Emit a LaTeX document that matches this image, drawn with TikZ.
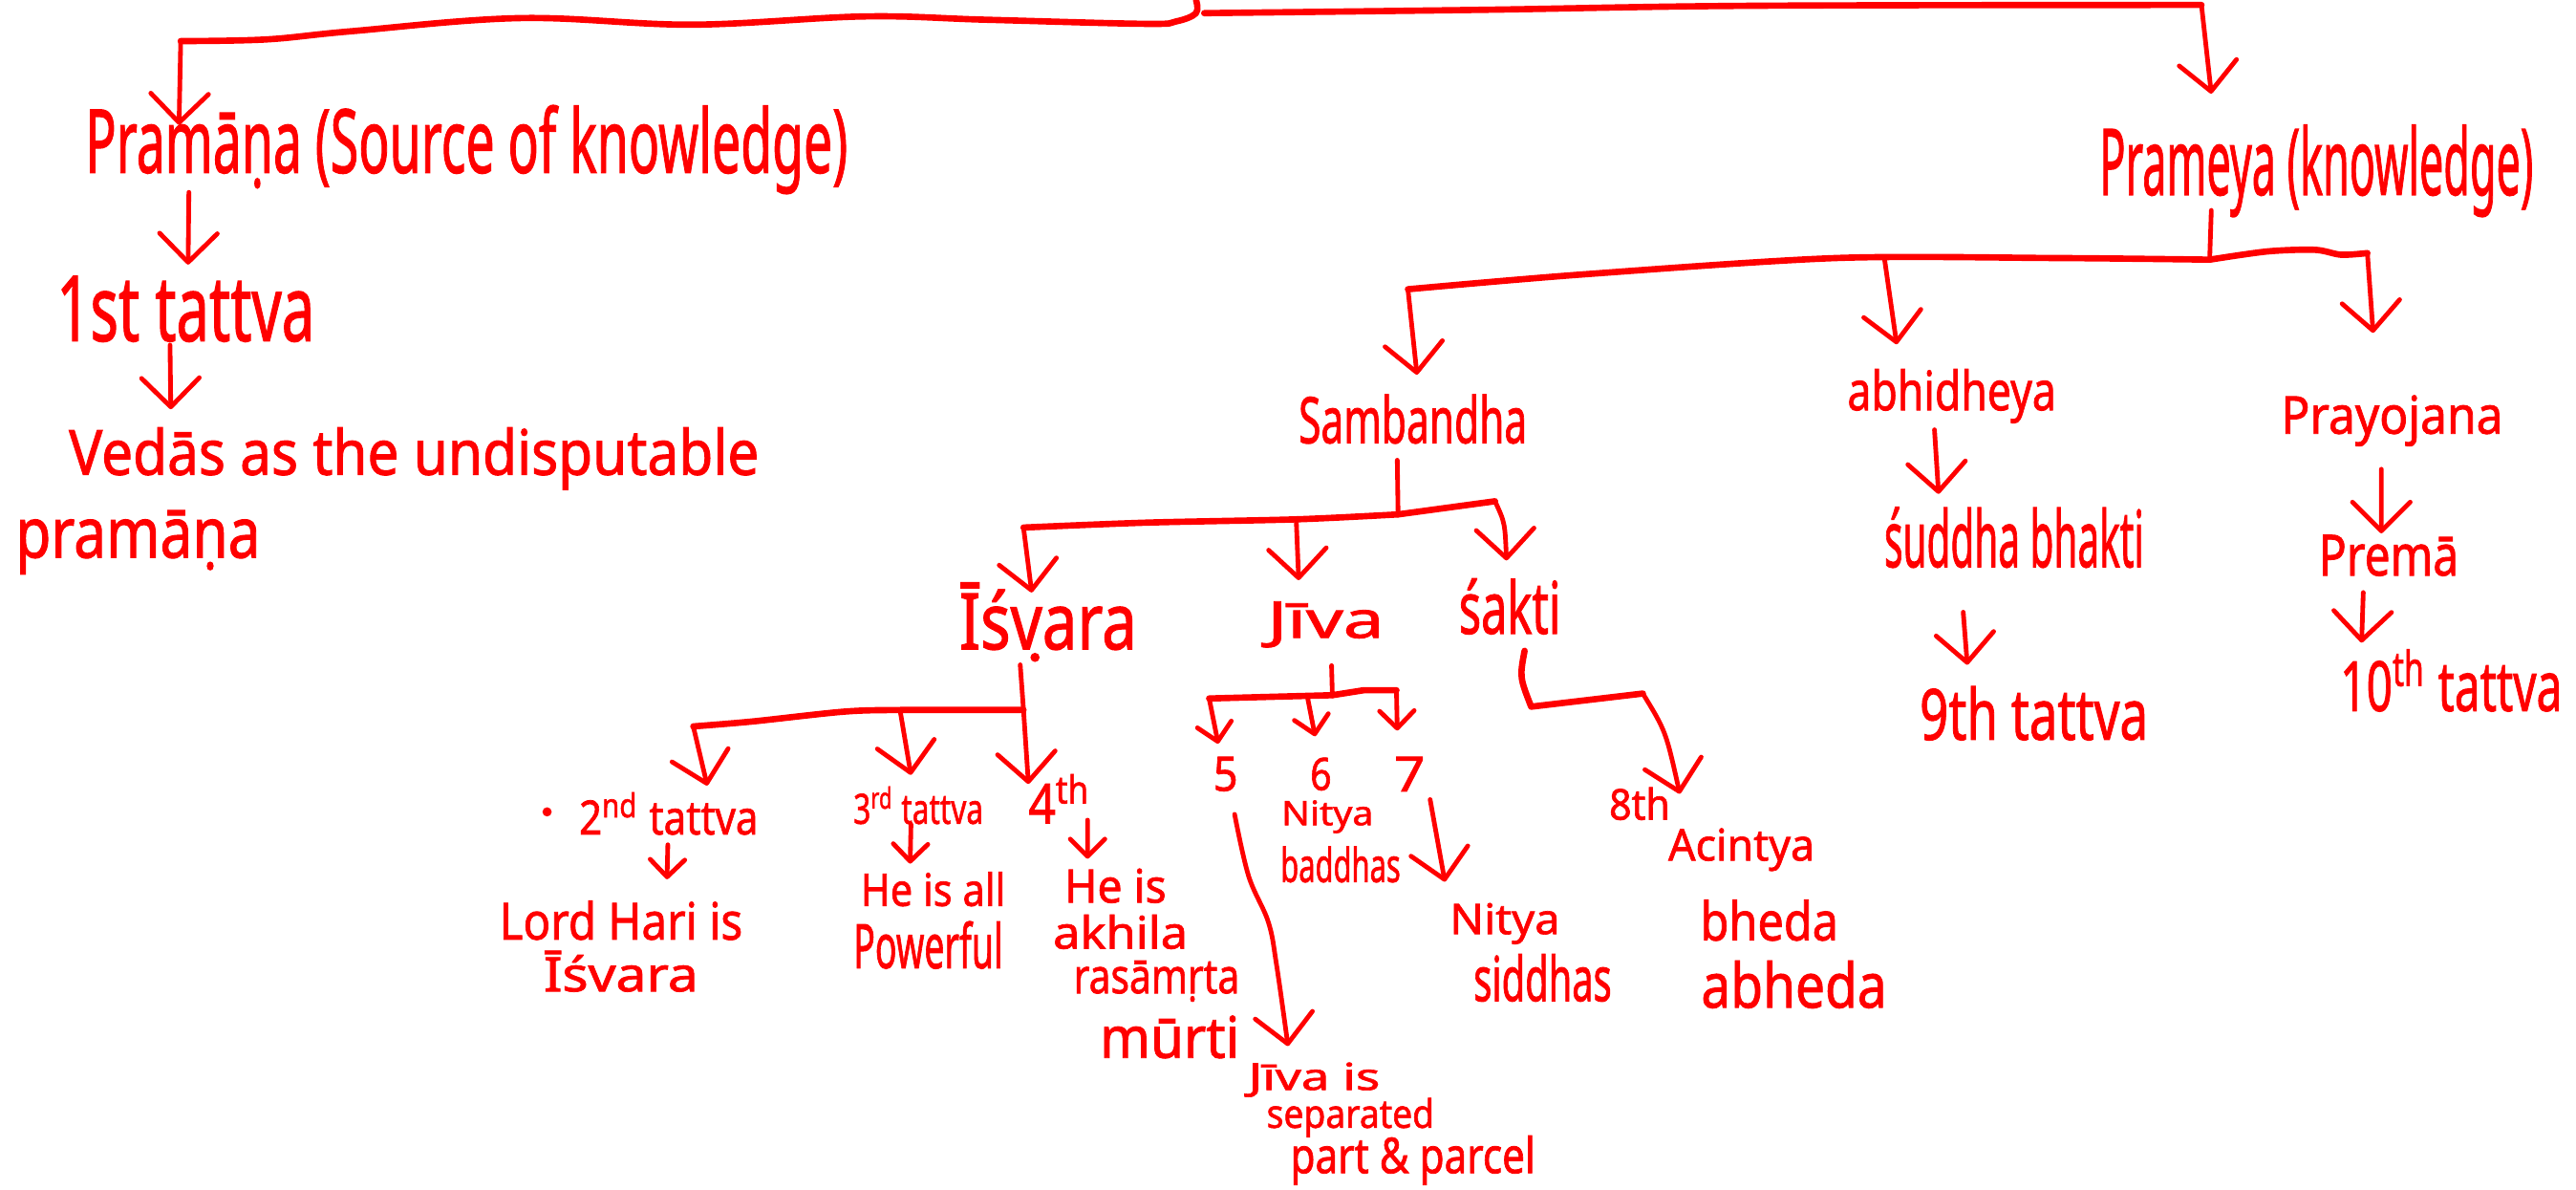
\documentclass[tikz,border=0pt]{standalone}
\usepackage{fontspec}
\setmainfont{Noto Sans}[BoldFont={Noto Sans}, BoldFeatures={FakeBold=1.5}]
\usetikzlibrary{arrows.meta,calc}
\definecolor{ink}{RGB}{255,0,0}
\newlength\pxu
\setlength\pxu{0.02cm}
% text squeezed into a box of the given width and total height
\newcommand{\hw}[3]{\resizebox*{#1\pxu}{#2\pxu}{#3}}
\begin{document}
\begin{tikzpicture}[x=0.02cm,y=-0.02cm,
  lbl/.style={inner sep=0pt, outer sep=0pt, text=ink, font=\bfseries},
  wire/.style={draw=ink, line width=1.6pt, line cap=round, line join=round},
  bus/.style={wire, line width=2.2pt},
  arr/.style={wire, -{Straight Barb[length=10pt,width=20pt,round]}},
  arrs/.style={wire, -{Straight Barb[length=6pt,width=12pt,round]}},
]
\useasboundingbox[fill=white] (0,0) rectangle (1568,724);

% ---------- labels ----------
\node[lbl] (pram)  at (284,91)   {\hw{464}{54}{Pramāṇa (Source of knowledge)}};
\node[lbl] (prem)  at (1410,104) {\hw{264}{56}{Prameya (knowledge)}};
\node[lbl] (tat1)  at (113,188)  {\hw{157}{40}{1st tattva}};
\node[lbl] (ved)   at (252,279)  {\hw{420}{38}{Vedās as the undisputable}};
\node[lbl] (ved2)  at (84,330)   {\hw{149}{39}{pramāṇa}};

\node[lbl] (samb)  at (860,255)  {\hw{139}{30}{Sambandha}};
\node[lbl] (abhi)  at (1188,241) {\hw{127}{33}{abhidheya}};
\node[lbl] (pray)  at (1456,256) {\hw{135}{31}{Prayojana}};
\node[lbl] (sudd)  at (1226,327) {\hw{158}{37}{śuddha bhakti}};
\node[lbl] (tat9)  at (1238,434) {\hw{139}{33}{9th tattva}};
\node[lbl] (pre)   at (1454,338) {\hw{85}{25}{Premā}};
\node[lbl] (tat10) at (1492,414) {\hw{135}{38}{10\textsuperscript{th} tattva}};

\node[lbl] (isv)   at (638,375)  {\hw{108}{41}{Īśvara}};
\node[lbl] (jiva)  at (807,380)  {\hw{71}{28}{Jīva}};
\node[lbl] (sak)   at (919,369)  {\hw{62}{34}{śakti}};

\node[lbl] (tat2)  at (407,495)  {\hw{109}{26}{2\textsuperscript{nd} tattva}};
\node[lbl] (lord)  at (378,560)  {\hw{148}{24}{Lord Hari is}};
\node[lbl] (lord2) at (378,591)  {\hw{94}{25}{Īśvara}};
\node[lbl] (tat3)  at (559,490)  {\hw{79}{23}{3\textsuperscript{rd} tattva}};
\node[lbl] (allp)  at (568,541)  {\hw{88}{21}{He is all}};
\node[lbl] (allp2) at (565,575)  {\hw{91}{29}{Powerful}};
\node[lbl] (tat4)  at (645,486)  {\hw{38}{30}{4\textsuperscript{th}}};
\node[lbl] (akh1)  at (679,539)  {\hw{62}{21}{He is}};
\node[lbl] (akh2)  at (682,567)  {\hw{82}{21}{akhila}};
\node[lbl] (akh3)  at (704,597)  {\hw{101}{25}{rasāmṛta}};
\node[lbl] (akh4)  at (712,631)  {\hw{85}{26}{mūrti}};

\node[lbl] (n5)    at (746,471)  {\hw{15}{21}{5}};
\node[lbl] (n6)    at (804,471)  {\hw{13}{20}{6}};
\node[lbl] (n7)    at (858,471)  {\hw{19}{21}{7}};
\node[lbl] (bad1)  at (808,497)  {\hw{56}{20}{Nitya}};
\node[lbl] (bad2)  at (816,526)  {\hw{73}{22}{baddhas}};
\node[lbl] (sid1)  at (916,562)  {\hw{67}{25}{Nitya}};
\node[lbl] (sid2)  at (939,595)  {\hw{84}{29}{siddhas}};
\node[lbl] (jsep1) at (800,657)  {\hw{80}{21}{Jīva is}};
\node[lbl] (jsep2) at (822,680)  {\hw{102}{24}{separated}};
\node[lbl] (jsep3) at (860,706)  {\hw{149}{30}{part \& parcel}};
\node[lbl] (tat8)  at (998,489)  {\hw{37}{20}{8th}};
\node[lbl] (aci1)  at (1060,517) {\hw{89}{26}{Acintya}};
\node[lbl] (aci2)  at (1077,560) {\hw{84}{25}{bheda}};
\node[lbl] (aci3)  at (1092,599) {\hw{113}{29}{abheda}};

% stray pen dots
\fill[ink] (333,494) circle (1.6pt);
\fill[ink] (630,400) circle (1.6pt);

% ---------- top split ----------
\coordinate (root) at (728,0);
\coordinate (rj) at (728,8);
\coordinate (cl) at (110,25);
\coordinate (cr) at (1340,3);
\draw[bus] plot[smooth, tension=0.6] coordinates {(root) (rj) (716,13) (697,14.5)
  (600,12) (526,10) (421,15) (317,11) (214,19) (162,24) (cl)};
\draw[bus] plot[smooth, tension=0.6] coordinates {(733,8) (900,6) (1067,3.5) (cr)};
\draw[arr] (cl) -- ($(pram.north west)+(57,12)$);
\draw[arr] (cr) -- ($(prem.north west)+(68,-19)$);

% ---------- Pramana branch ----------
\draw[arr] ($(pram.south west)+(63,-1)$) -- ($(tat1.north west)+(80,-7)$);
\draw[arr] ($(tat1.south west)+(69,2)$) -- ($(ved.north west)+(62,-11)$);

% ---------- Prameya branch ----------
\coordinate (pj) at (1345,158);
\coordinate (pl) at (857,176);
\coordinate (pm) at (1147,157);
\coordinate (pr) at (1441,154);
\draw[wire] ($(prem.south west)+(68,-4)$) -- (pj);
\draw[bus] plot[smooth, tension=0.5] coordinates {(pj) (1250,157) (1118,157) (963,167) (pl)};
\draw[bus] plot[smooth, tension=0.5] coordinates {(pj) (1380,153) (1409,152) (1425,155) (pr)};
\draw[arr] (pl) -- ($(samb.north west)+(72,-12)$);
\draw[arr] (pm) -- ($(abhi.north west)+(30,-15)$);
\draw[arr] (pr) -- ($(pray.north west)+(56,-38)$);

\draw[arr] ($(abhi.south west)+(53,4)$) -- ($(sudd.north west)+(33,-8)$);
\draw[arr] ($(sudd.south west)+(48,27)$) -- ($(tat9.north west)+(29,-13)$);
\draw[arr] ($(pray.south west)+(61,14)$) -- ($(pre.north west)+(38,-1)$);
\draw[arr] ($(pre.south west)+(27,10)$) -- ($(tat10.north west)+(13,-4)$);

% ---------- Sambandha ----------
\coordinate (sj) at (851,313);
\coordinate (sl) at (623,321);
\coordinate (sm) at (789,316);
\coordinate (sr) at (910,305);
\draw[wire] ($(samb.south west)+(60,10)$) -- (sj);
\draw[bus] plot[smooth, tension=0.5] coordinates {(sj) (sm) (698,318) (sl)};
\draw[bus] (sj) -- (sr);
\draw[arr] (sl) -- ($(isv.north west)+(44,6)$);
\draw[arr] (sm) -- ($(jiva.north west)+(19,-13)$);
\draw[arr] (sr) .. controls (916,318) .. ($(sak.north west)+(29,-11)$);

% ---------- Isvara ----------
\coordinate (ij) at (623,432);
\coordinate (il) at (422,442);
\coordinate (im) at (548,433);
\draw[bus] plot[smooth, tension=0.5] coordinates {(ij) (550,432) (514,433) (458,439) (il)};
\draw[arr] ($(isv.south west)+(37,9)$) -- (ij) -- ($(tat4.north west)+(0,6)$);
\draw[arr] (il) -- ($(tat2.north west)+(78,-4)$);
\draw[arr] (im) -- ($(tat3.north west)+(35,-7)$);
\draw[arrs] ($(tat2.south west)+(54,6)$) -- ($(lord.north west)+(102,-13)$);
\draw[arrs] ($(tat3.south west)+(35,0)$) -- ($(allp.north west)+(30,-5)$);
\draw[arrs] ($(tat4.south west)+(36,-2)$) -- ($(akh1.north west)+(14,-6)$);

% ---------- Jiva ----------
\coordinate (jj) at (811,423);
\coordinate (jl) at (736,425);
\coordinate (jm) at (796,425);
\coordinate (jr) at (850,420);
\draw[wire] ($(jiva.south west)+(39,11)$) -- (jj);
\draw[bus] (jj) -- (jl);
\draw[bus] (jj) -- (830,420) -- (jr);
\draw[arrs] (jl) -- ($(n5.north west)+(3,-8)$);
\draw[arrs] (jm) -- ($(n6.north west)+(3,-13)$);
\draw[arrs] (jr) -- ($(n7.north west)+(2,-16)$);
\draw[arr] plot[smooth, tension=0.6] coordinates {($(n5.south west)+(13,14)$)
  (760,533) (772,561) (777,587) ($(jsep1.north west)+(24,-10)$)};
\draw[arr] ($(n7.south west)+(22,5)$) -- ($(sid1.north west)+(-3,-13)$);

% ---------- Sakti ----------
\coordinate (kc) at (932,430);
\coordinate (kr) at (1000,422);
\draw[bus] ($(sak.south west)+(40,10)$) .. controls (925,412) .. (kc) -- (kr);
\draw[arr] (kr) .. controls (1014,445) .. ($(tat8.north west)+(43,4)$);
\end{tikzpicture}
\end{document}
